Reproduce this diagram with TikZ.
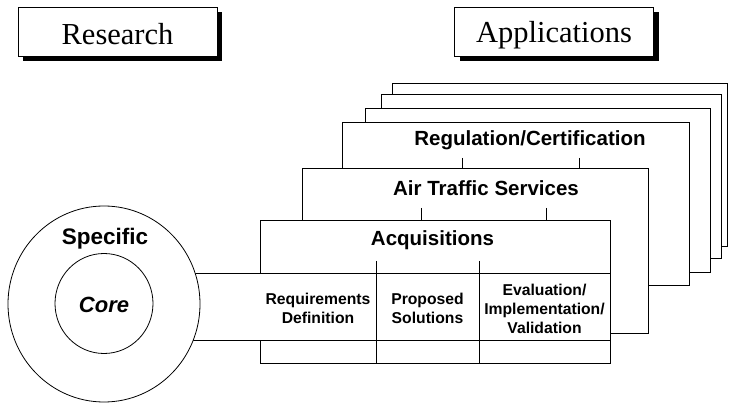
\documentclass[tikz,border=0pt]{standalone}
\usepackage{fontspec}
\setmainfont{Liberation Serif}
\setsansfont{Liberation Sans}
\usetikzlibrary{shapes.geometric,shadows}
\begin{document}
\begin{tikzpicture}[x=1pt,y=-1pt,line width=0.8pt,
  titlebox/.style={draw,fill=white,inner sep=0pt,minimum width=199pt,minimum height=49pt,
    font=\fontsize{30.5}{34}\selectfont,
    drop shadow={shadow xshift=5pt,shadow yshift=-5pt,fill=black,opacity=1}},
  stackbox/.style={draw,fill=white,inner sep=0pt,anchor=north west},
  head/.style={font=\fontsize{20.5}{24}\selectfont\sffamily\bfseries,inner sep=0pt,anchor=base},
  cell/.style={font=\fontsize{15.7}{19}\selectfont\sffamily\bfseries,inner sep=0pt,align=center},
  ring/.style={draw,fill=white,ellipse,inner sep=0pt}]
\useasboundingbox (0,0) rectangle (729,403);

% title boxes
\node[titlebox,text height=26pt,text depth=0pt] (research) at (117.5,32) {Research};
\node[titlebox,text height=28pt,text depth=6pt] (applications) at (554,32) {Applications};

% stacked application boxes, back to front
\node[stackbox,minimum width=335pt,minimum height=163pt] (boxc) at (392,83) {};
\node[stackbox,minimum width=340pt,minimum height=164pt] (boxb) at (381,94) {};
\node[stackbox,minimum width=345pt,minimum height=164pt] (boxa) at (365,108) {};
\node[stackbox,minimum width=347pt,minimum height=163pt] (reg) at (342,122) {};
\node[stackbox,minimum width=346pt,minimum height=165pt] (air) at (302,168) {};
\node[fill=white,inner sep=0pt,anchor=north west,minimum width=350pt,minimum height=143pt] (acq) at (260,220) {};

\coordinate (bandtop) at (0,273);
\coordinate (bandbot) at (0,340);
\coordinate (cc) at (104,304);

\draw (acq.west |- bandtop) -- (acq.north west) -- (acq.north east) -- (acq.south east)
      -- (acq.south west) -- (acq.west |- bandbot);

% band from the circle through the table
\draw (cc |- bandtop) -- (acq.east |- bandtop);
\draw (cc |- bandbot) -- (acq.east |- bandbot);

% ticks between boxes
\coordinate (t1) at (462,158);
\coordinate (t2) at (579,158);
\coordinate (t3) at (421,208);
\coordinate (t4) at (546,208);
\draw (t1) -- (t1 |- air.north);
\draw (t2) -- (t2 |- air.north);
\draw (t3) -- (t3 |- acq.north);
\draw (t4) -- (t4 |- acq.north);

% column dividers
\coordinate (d1) at (376,261);
\coordinate (d2) at (479,261);
\draw (d1) -- (d1 |- acq.south);
\draw (d2) -- (d2 |- acq.south);

% headings
\node[head] (treg) at (530,146) {Regulation/Certification};
\node[head] (tair) at (486,196) {Air Traffic Services};
\node[head] (tacq) at (432.5,246) {Acquisitions};

% cells
\node[cell] (c1) at (318,308.5) {Requirements\\Definition};
\node[cell] (c2) at (427.5,308.5) {Proposed\\Solutions};
\node[cell] (c3) at (544.5,308.5) {Evaluation/\\Implementation/\\Validation};

% circles
\node[ring,minimum width=192pt,minimum height=196pt] (spec) at (cc) {};
\node[ring,minimum width=98pt,minimum height=100pt] (core) at (104,303.5) {};
\node[head,font=\fontsize{22.5}{26}\selectfont\sffamily\bfseries] (tspec) at (105,245) {Specific};
\node[head,font=\fontsize{22}{26}\selectfont\sffamily\bfseries\itshape] (tcore) at (104,313) {Core};
\end{tikzpicture}
\end{document}
